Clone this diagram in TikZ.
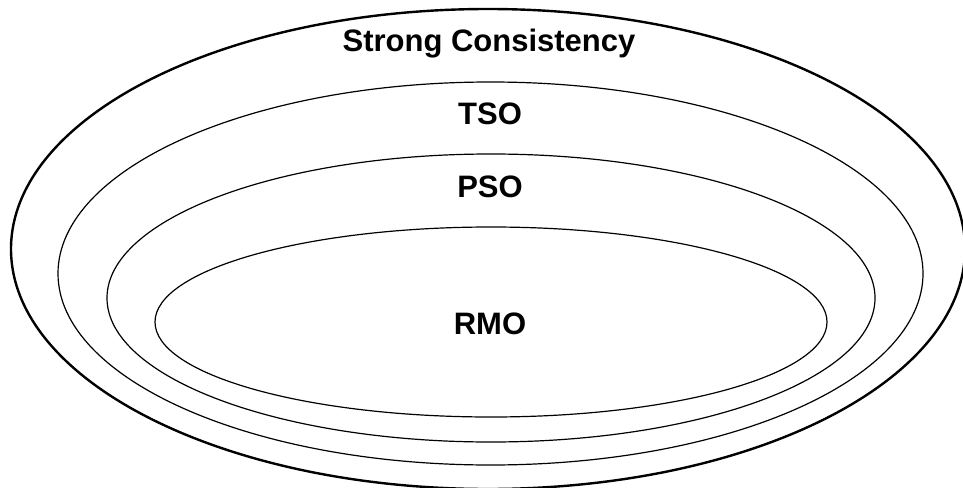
\documentclass[tikz,border=0pt]{standalone}
\usepackage{fontspec}
\setmainfont{Liberation Sans}
\usetikzlibrary{shapes.geometric,positioning}
\tikzset {
  every node/.style={font=\bfseries\fontsize{31}{31}\selectfont},
  model/.style={draw,ellipse,inner sep=0pt,line width=1.2pt},
}

\begin{document}
\begin{tikzpicture}[x=1pt,y=-1pt]
          \useasboundingbox (0,0) rectangle (963,487);
          \node[model,line width=2.4pt,minimum width=954pt,minimum height=480pt] (sc) at (488,249){};
          \node[model,minimum width=865pt,minimum height=383pt] (tso) at (490.5,273.5){};
          \node[model,minimum width=768pt,minimum height=288pt] (pso) at (491,298){};
          \node[model,minimum width=672pt,minimum height=190pt] (rmo) at (491,322){};
          \node[anchor=base] (sclabel) at (489,52){Strong Consistency};
          \node[anchor=base] (tsolabel) at (490,124){TSO};
          \node[anchor=base] (psolabel) at (490,197){PSO};
          \node[anchor=base] (rmolabel) at (490,334){RMO};
        \end{tikzpicture}
\end{document}
